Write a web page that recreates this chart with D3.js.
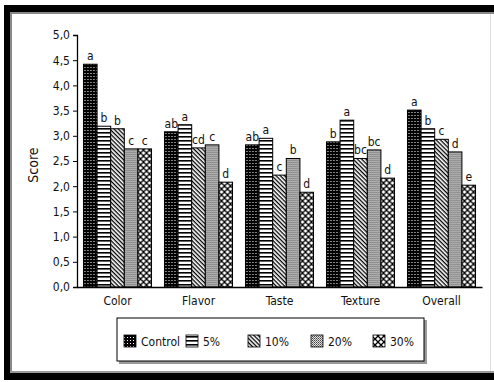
<!DOCTYPE html>
<html>
<head>
<meta charset="utf-8">
<script src="https://cdn.jsdelivr.net/npm/d3@7"></script>
<style>
  html, body { margin: 0; padding: 0; background: #fff; }
  svg { display: block; }
  text { font-family: "DejaVu Sans Condensed", "DejaVu Sans", sans-serif; font-stretch: condensed; fill: #111; }
</style>
</head>
<body>
<svg id="chart" width="494" height="382"></svg>
<script>
// Sensory scores per attribute and substitution level
const attributes = ["Color", "Flavor", "Taste", "Texture", "Overall"];
const levels = ["Control", "5%", "10%", "20%", "30%"];
const control = [4.42, 3.08, 2.82, 2.88, 3.51];
const pct5    = [3.19, 3.22, 2.95, 3.31, 3.14];
const pct10   = [3.14, 2.76, 2.22, 2.55, 2.93];
const pct20   = [2.74, 2.82, 2.55, 2.72, 2.68];
const pct30   = [2.74, 2.08, 1.88, 2.16, 2.02];
const letters = [
  ["a", "b", "b", "c", "c"],
  ["ab", "a", "cd", "c", "d"],
  ["ab", "a", "c", "b", "d"],
  ["b", "a", "bc", "bc", "d"],
  ["a", "b", "c", "d", "e"]
];
const yTicks = [0, 0.5, 1, 1.5, 2, 2.5, 3, 3.5, 4, 4.5, 5];

const series = [control, pct5, pct10, pct20, pct30];

const svg = d3.select("#chart");
const W = 494, H = 382;

// ---- fill patterns, one per level ----
const defs = svg.append("defs");
const pControl = defs.append("pattern").attr("id", "p0").attr("patternUnits", "userSpaceOnUse")
  .attr("width", 3).attr("height", 3);
pControl.append("rect").attr("width", 3).attr("height", 3).attr("fill", "#000");
pControl.append("rect").attr("x", 1).attr("y", 1).attr("width", 1).attr("height", 1).attr("fill", "#fff");

const p5 = defs.append("pattern").attr("id", "p1").attr("patternUnits", "userSpaceOnUse")
  .attr("width", 4).attr("height", 4);
p5.append("rect").attr("width", 4).attr("height", 4).attr("fill", "#fff");
p5.append("rect").attr("y", 0).attr("width", 4).attr("height", 1.6).attr("fill", "#000");

const p10 = defs.append("pattern").attr("id", "p2").attr("patternUnits", "userSpaceOnUse")
  .attr("width", 3).attr("height", 3).attr("patternTransform", "rotate(45)");
p10.append("rect").attr("width", 3).attr("height", 3).attr("fill", "#fff");
p10.append("rect").attr("width", 3).attr("height", 1.3).attr("fill", "#000");

const p20 = defs.append("pattern").attr("id", "p3").attr("patternUnits", "userSpaceOnUse")
  .attr("width", 2).attr("height", 2);
p20.append("rect").attr("width", 2).attr("height", 2).attr("fill", "#e0e0e0");
p20.append("rect").attr("width", 1).attr("height", 1).attr("fill", "#444");
p20.append("rect").attr("x", 1).attr("y", 1).attr("width", 1).attr("height", 1).attr("fill", "#777");

const p30 = defs.append("pattern").attr("id", "p4").attr("patternUnits", "userSpaceOnUse")
  .attr("width", 6).attr("height", 6);
p30.append("rect").attr("width", 6).attr("height", 6).attr("fill", "#fff");
p30.append("path").attr("d", "M0,0L6,6M6,0L0,6").attr("stroke", "#000").attr("stroke-width", 1.3);

const fills = ["url(#p0)", "url(#p1)", "url(#p2)", "url(#p3)", "url(#p4)"];

// ---- page frame ----
svg.append("rect").attr("width", W).attr("height", H).attr("fill", "#fff");
svg.append("rect").attr("x", 4).attr("y", 5).attr("width", W - 4).attr("height", 7).attr("fill", "#000");
svg.append("rect").attr("x", 4).attr("y", 12).attr("width", W - 4).attr("height", 2).attr("fill", "#888");
svg.append("rect").attr("x", 4).attr("y", 5).attr("width", 6).attr("height", 375).attr("fill", "#000");
svg.append("rect").attr("x", 10).attr("y", 12).attr("width", 2).attr("height", 361).attr("fill", "#888");
svg.append("rect").attr("x", 4).attr("y", 373).attr("width", W - 4).attr("height", 7).attr("fill", "#000");
svg.append("rect").attr("x", 10).attr("y", 371).attr("width", W - 10).attr("height", 2).attr("fill", "#999");
svg.append("rect").attr("x", 490).attr("y", 14).attr("width", 1).attr("height", 357).attr("fill", "#ddd");

// ---- scales ----
const plotLeft = 77, plotRight = 482, plotTop = 35, plotBottom = 287;
const y = d3.scaleLinear().domain([0, 5]).range([plotBottom, plotTop]);
const x0 = d3.scaleBand().domain(attributes).range([plotLeft, plotRight])
  .paddingInner(0.16).paddingOuter(0.08);
const x1 = d3.scaleBand().domain(levels).range([0, x0.bandwidth()]);

// ---- bars ----
const groups = svg.append("g").selectAll("g").data(attributes).join("g")
  .attr("transform", d => `translate(${x0(d)},0)`);

groups.each(function(attr, ai) {
  const g = d3.select(this);
  levels.forEach((lv, li) => {
    const v = series[li][ai];
    g.append("rect")
      .attr("x", x1(lv)).attr("y", y(v))
      .attr("width", x1.bandwidth()).attr("height", y(0) - y(v))
      .attr("fill", fills[li]).attr("stroke", "#000").attr("stroke-width", 1);
    g.append("text")
      .attr("x", x1(lv) + x1.bandwidth() / 2).attr("y", y(v) - 4)
      .attr("text-anchor", "middle").attr("font-size", 12)
      .text(letters[ai][li]);
  });
});

// ---- axes ----
const fontStack = "\"DejaVu Sans Condensed\", \"DejaVu Sans\", sans-serif";
const yAxis = d3.axisLeft(y).tickValues(yTicks).tickSize(4).tickPadding(3)
  .tickFormat(d => d3.format(".1f")(d).replace(".", ","));
const gy = svg.append("g").attr("transform", `translate(${plotLeft},0)`).call(yAxis);
gy.select(".domain").attr("stroke", "#000").attr("stroke-width", 1.3);
gy.selectAll(".tick line").attr("stroke", "#000");
gy.selectAll(".tick text").attr("font-size", 12).attr("fill", "#111").attr("font-family", fontStack);

const xAxis = d3.axisBottom(x0).tickSize(0).tickPadding(9);
const gx = svg.append("g").attr("transform", `translate(0,${plotBottom})`).call(xAxis);
gx.select(".domain").attr("stroke", "#000").attr("stroke-width", 1.3);
gx.selectAll(".tick text").attr("font-size", 12).attr("fill", "#111").attr("font-family", fontStack);

// y axis title
svg.append("text")
  .attr("transform", "translate(38,165) rotate(-90)")
  .attr("text-anchor", "middle").attr("font-size", 14).attr("fill", "#333")
  .text("Score");

// ---- legend ----
const lg = svg.append("g");
lg.append("rect").attr("x", 119).attr("y", 320).attr("width", 308).attr("height", 44).attr("fill", "#999");
lg.append("rect").attr("x", 117).attr("y", 318).attr("width", 307).attr("height", 43)
  .attr("fill", "#fff").attr("stroke", "#000").attr("stroke-width", 1);
const legendX = [124, 186, 248, 311, 373];
levels.forEach((lv, i) => {
  lg.append("rect").attr("x", legendX[i]).attr("y", 335).attr("width", 12).attr("height", 12)
    .attr("fill", fills[i]).attr("stroke", "#000").attr("stroke-width", 0.8);
  lg.append("text").attr("x", legendX[i] + 17).attr("y", 346).attr("font-size", 12).text(lv);
});
</script>
</body>
</html>
